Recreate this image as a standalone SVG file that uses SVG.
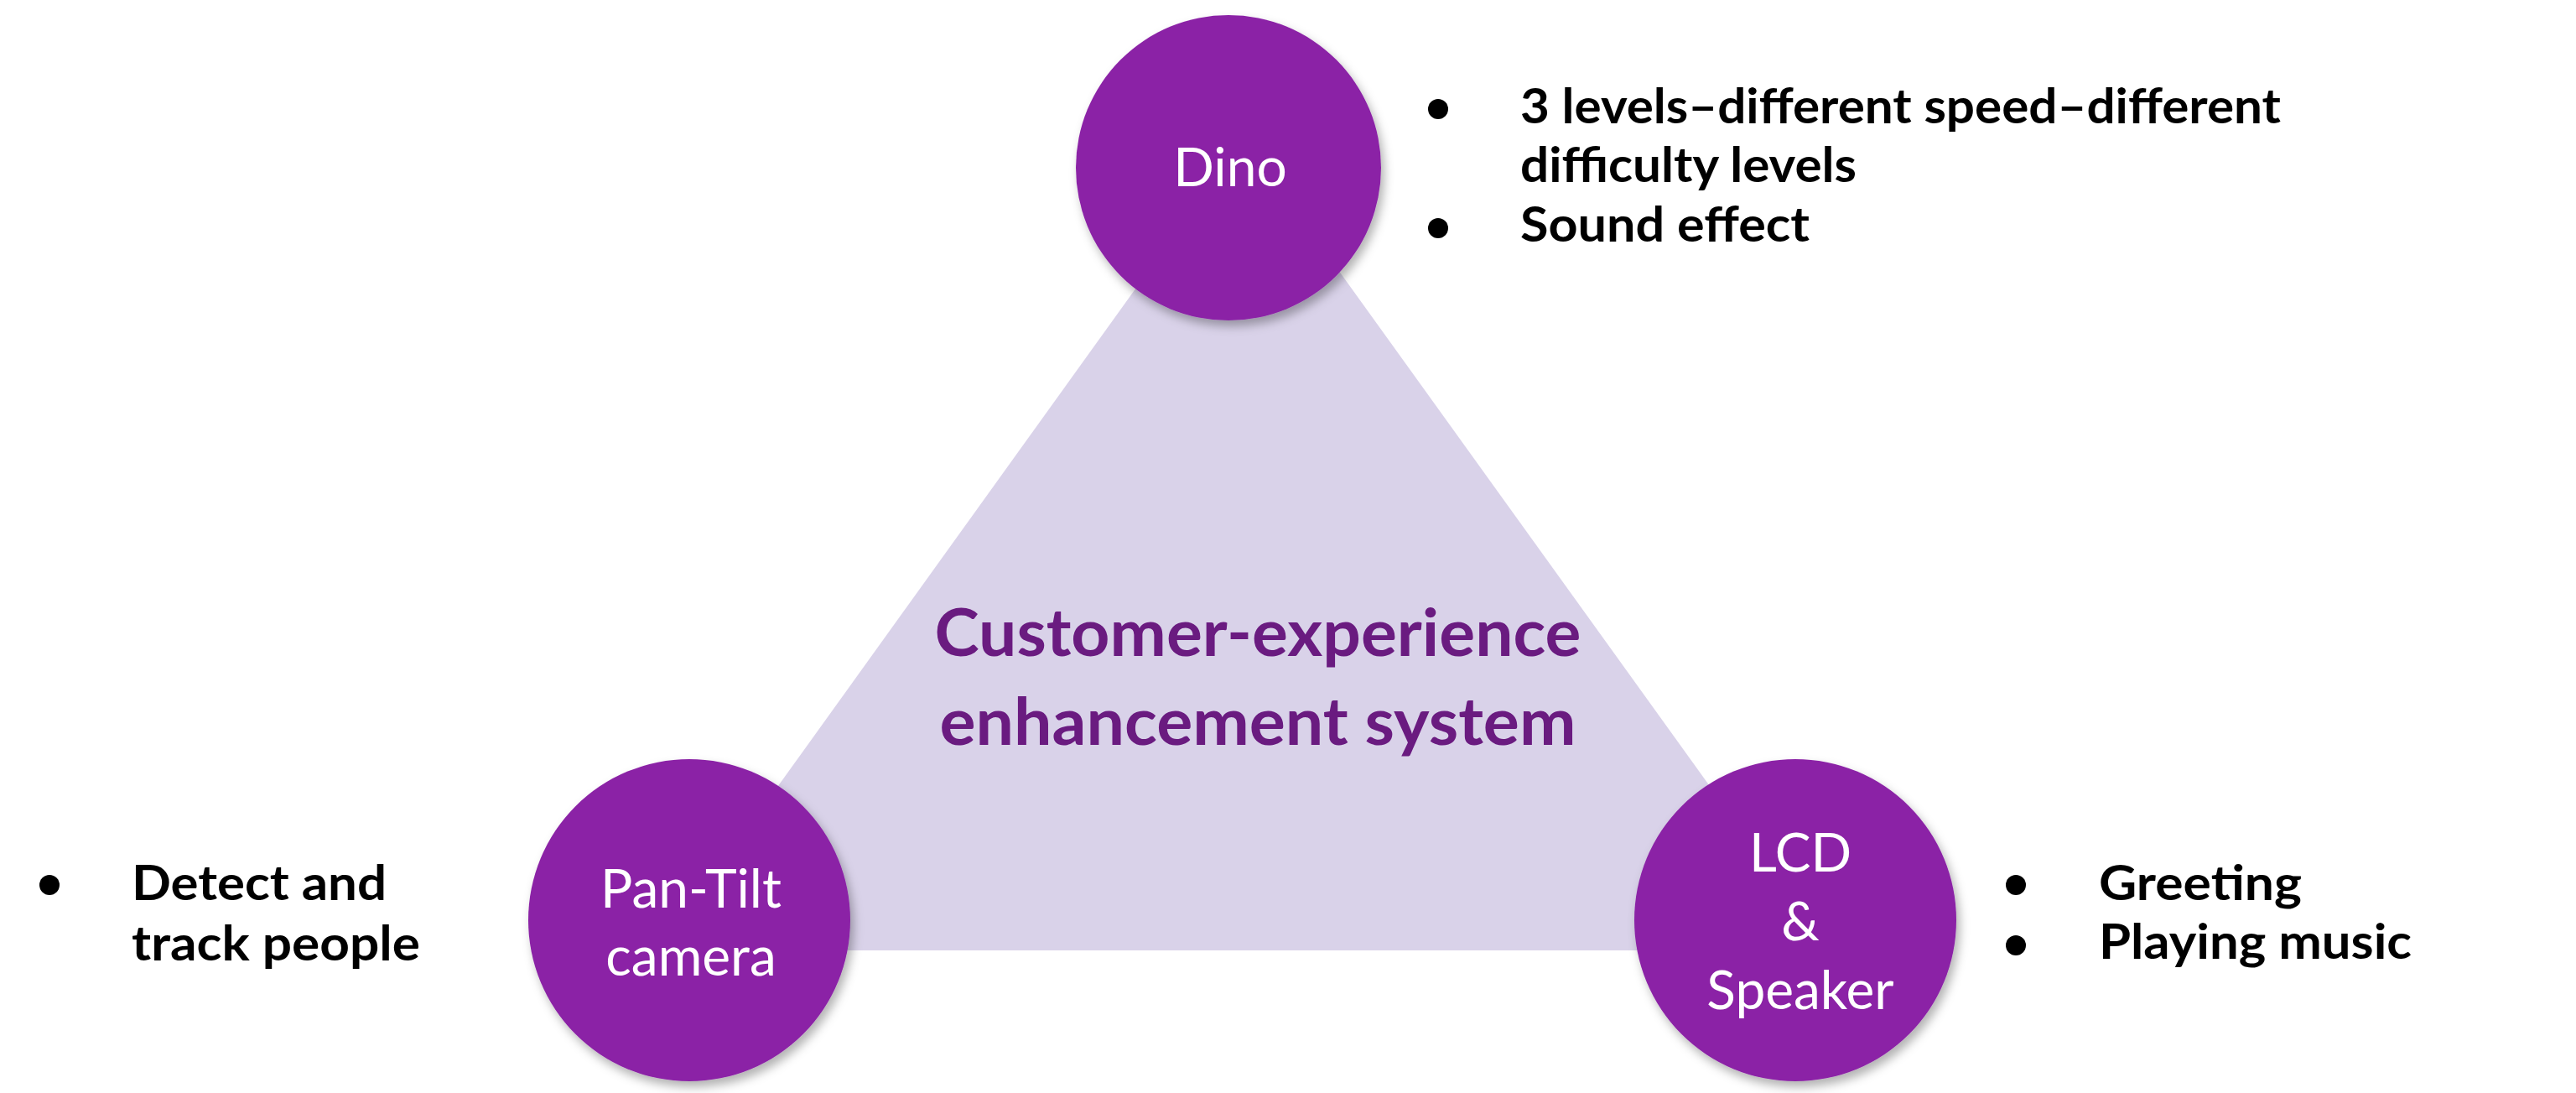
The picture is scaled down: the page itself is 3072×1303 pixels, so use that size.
<svg xmlns="http://www.w3.org/2000/svg" width="3072" height="1303" viewBox="0 0 3072 1303">
<style>
.node{fill:#8B24A6;filter:url(#sh)}
.lbl{font-family:Lato,"Open Sans","Liberation Sans",sans-serif;font-size:64px;fill:#ffffff;text-anchor:middle}
.bul{font-family:Lato,"Open Sans","Liberation Sans",sans-serif;font-size:58px;font-weight:bold;fill:#000000}
.ctr{font-family:Lato,"Open Sans","Liberation Sans",sans-serif;font-size:78px;font-weight:bold;fill:#6A1B80;text-anchor:middle}
.dot{fill:#000000}
</style>
<defs>
<filter id="sh" x="-20%" y="-20%" width="140%" height="140%">
<feDropShadow dx="4" dy="7" stdDeviation="6" flood-color="#000000" flood-opacity="0.3"/>
</filter>
</defs>
<rect width="3072" height="1303" fill="#ffffff"/>
<g id="connectors">
<polygon points="1483,165 787,1133 2180,1133" fill="#D9D2E9"/>
</g>
<g id="center-label">
<text class="ctr" x="1500" y="782" textLength="771" lengthAdjust="spacingAndGlyphs">Customer-experience</text>
<text class="ctr" x="1500" y="888" textLength="759" lengthAdjust="spacingAndGlyphs">enhancement system</text>
</g>
<g id="node-dino">
<circle class="node" cx="1465" cy="200" r="182"/>
<text class="lbl" x="1467" y="222">Dino</text>
</g>
<g id="node-pantilt">
<circle class="node" cx="822" cy="1097" r="192"/>
<text class="lbl" x="824" y="1082">Pan-Tilt</text>
<text class="lbl" x="824" y="1163">camera</text>
</g>
<g id="node-lcd">
<circle class="node" cx="2141" cy="1097" r="192"/>
<text class="lbl" x="2147" y="1039">LCD</text>
<text class="lbl" x="2147" y="1121">&amp;</text>
<text class="lbl" x="2147" y="1203">Speaker</text>
</g>
<g id="notes-dino">
<circle class="dot" cx="1715" cy="130" r="12"/>
<text class="bul" x="1813" y="147" textLength="907" lengthAdjust="spacingAndGlyphs">3 levels–different speed–different</text>
<text class="bul" x="1813" y="217" textLength="401" lengthAdjust="spacingAndGlyphs">difficulty levels</text>
<circle class="dot" cx="1715" cy="272" r="12"/>
<text class="bul" x="1813" y="288" textLength="345" lengthAdjust="spacingAndGlyphs">Sound effect</text>
</g>
<g id="notes-pantilt">
<circle class="dot" cx="59" cy="1055" r="12"/>
<text class="bul" x="157" y="1073" textLength="304" lengthAdjust="spacingAndGlyphs">Detect and</text>
<text class="bul" x="157" y="1145" textLength="344" lengthAdjust="spacingAndGlyphs">track people</text>
</g>
<g id="notes-lcd">
<circle class="dot" cx="2404" cy="1055" r="12"/>
<text class="bul" x="2503" y="1073" textLength="242" lengthAdjust="spacingAndGlyphs">Greeting</text>
<circle class="dot" cx="2404" cy="1127" r="12"/>
<text class="bul" x="2503" y="1143" textLength="373" lengthAdjust="spacingAndGlyphs">Playing music</text>
</g>
</svg>
